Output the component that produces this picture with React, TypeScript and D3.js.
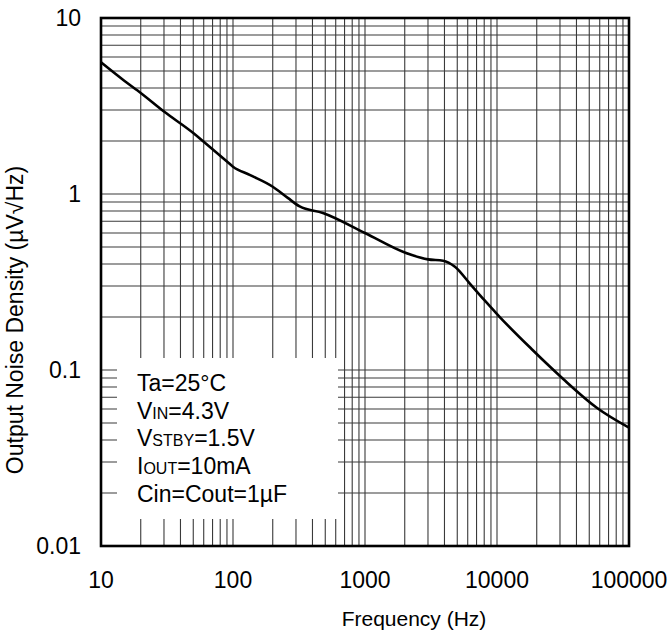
import React from "react";
import * as d3 from "d3";

const frequencyHz = [10, 15, 20, 30, 50, 60, 90, 100, 135, 200, 260, 320, 480, 1000, 2000, 3000, 3900, 4800, 6200, 8000, 10500, 18600, 25000, 33000, 57000, 100000];
const noiseDensity = [5.6, 4.4, 3.75, 2.94, 2.22, 1.98, 1.53, 1.43, 1.28, 1.1, 0.95, 0.85, 0.78, 0.6, 0.465, 0.425, 0.418, 0.386, 0.311, 0.25, 0.2, 0.13, 0.105, 0.0865, 0.061, 0.047];

const xTickValues = [10, 100, 1000, 10000, 100000];
const xTickLabels = ["10", "100", "1000", "10000", "100000"];
const yTickValues = [0.01, 0.1, 1, 10];
const yTickLabels = ["0.01", "0.1", "1", "10"];

const legendLines = [
  [["Ta=25°C", false]],
  [["V", false], ["IN", true], ["=4.3V", false]],
  [["V", false], ["STBY", true], ["=1.5V", false]],
  [["I", false], ["OUT", true], ["=10mA", false]],
  [["Cin=Cout=1µF", false]],
];

const xTitle = "Frequency (Hz)";
const yTitle = "Output Noise Density (µV√Hz)";

export default function App() {
  const W = 671, H = 632;
  const left = 101, right = 629, top = 18, bottom = 546;
  const x = d3.scaleLog().domain([10, 100000]).range([left, right]);
  const y = d3.scaleLog().domain([0.01, 10]).range([bottom, top]);

  const xGrid: number[] = [];
  for (let e = 1; e < 5; e++) for (let m = 1; m <= 9; m++) xGrid.push(m * Math.pow(10, e));
  const yGrid: number[] = [];
  for (let e = -2; e < 1; e++) for (let m = 1; m <= 9; m++) yGrid.push(m * Math.pow(10, e));

  const line = d3
    .line<number>()
    .x((_, i) => x(frequencyHz[i]))
    .y((d) => y(d))
    .curve(d3.curveMonotoneX);

  const font = "Liberation Sans, Arial, Helvetica, sans-serif";

  return (
    <svg width={W} height={H} style={{ position: "absolute", left: 0, top: 0 }} fontFamily={font}>
      <rect x={0} y={0} width={W} height={H} fill="#fff" />
      {xGrid.map((v, i) => (
        <line key={"xg" + i} x1={x(v)} x2={x(v)} y1={top} y2={bottom} stroke="#3a3a3a" strokeWidth={1.1} />
      ))}
      {yGrid.map((v, i) => (
        <line key={"yg" + i} x1={left} x2={right} y1={y(v)} y2={y(v)} stroke="#3a3a3a" strokeWidth={1.1} />
      ))}
      <rect x={117} y={358} width={221} height={161} fill="#fff" />
      <path d={line(noiseDensity) || ""} fill="none" stroke="#000" strokeWidth={2.6} />
      <rect x={left} y={top} width={right - left} height={bottom - top} fill="none" stroke="#000" strokeWidth={2.6} />
      {xTickValues.map((v, i) => (
        <text key={"xt" + i} x={x(v)} y={588} fontSize={23} textAnchor="middle" fill="#000">
          {xTickLabels[i]}
        </text>
      ))}
      {yTickValues.map((v, i) => (
        <text key={"yt" + i} x={81} y={y(v)} dy="0.35em" fontSize={23} textAnchor="end" fill="#000">
          {yTickLabels[i]}
        </text>
      ))}
      {legendLines.map((segs, i) => (
        <text key={"lg" + i} x={137} y={391 + i * 27.7} fontSize={23} fill="#000">
          {segs.map((s, j) => (
            <tspan key={j} fontSize={s[1] ? 16 : 23}>
              {s[0] as string}
            </tspan>
          ))}
        </text>
      ))}
      <text x={414} y={626} fontSize={21} textAnchor="middle" fill="#000">
        {xTitle}
      </text>
      <text transform="translate(23,320) rotate(-90)" fontSize={23} textAnchor="middle" fill="#000">
        {yTitle}
      </text>
    </svg>
  );
}
